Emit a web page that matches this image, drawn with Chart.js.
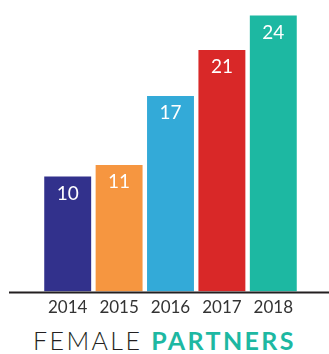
<!DOCTYPE html>
<html>
<head>
<meta charset="utf-8">
<script src="https://cdn.jsdelivr.net/npm/chart.js@4/dist/chart.umd.min.js"></script>
<style>
  html, body { margin: 0; padding: 0; background: #fff; }
  #wrap { position: relative; width: 329px; height: 354px; }
  #box { position: absolute; left: 0; top: 0; width: 329px; height: 325px; }
  #title {
    position: absolute; left: 0; top: 326px; width: 329px; text-align: center;
    font-family: Lato, sans-serif; font-size: 25px; letter-spacing: 2.4px; color: #231f20;
    line-height: 28px;
  }
  #title b { color: #1db8a2; font-weight: 700; }
  #title span { font-weight: 300; }
</style>
</head>
<body>
<div id="wrap">
  <div id="box"><canvas id="chart"></canvas></div>
  <div id="title"><span>FEMALE</span> <b>PARTNERS</b></div>
</div>
<script>
const years = ['2014', '2015', '2016', '2017', '2018'];
const partners = [10, 11, 17, 21, 24];
const barColors = ['#32318c', '#f69640', '#33aad8', '#d92828', '#1db8a2'];

// white value labels just inside the top of each bar
const valueLabels = {
    id: 'valueLabels',
    afterDatasetsDraw(chart) {
        const ctx = chart.ctx;
        const meta = chart.getDatasetMeta(0);
        ctx.save();
        ctx.fillStyle = '#ffffff';
        ctx.font = '19px Lato, sans-serif';
        ctx.textAlign = 'center';
        ctx.textBaseline = 'middle';
        meta.data.forEach((bar, i) => {
            ctx.fillText(partners[i], bar.x, bar.y + 17);
        });
        ctx.restore();
    }
};

// baseline running across the whole width
const baseLine = {
    id: 'baseLine',
    afterDatasetsDraw(chart) {
        const ctx = chart.ctx;
        const y = chart.scales.y.getPixelForValue(0);
        ctx.save();
        ctx.strokeStyle = '#231f20';
        ctx.lineWidth = 2;
        ctx.beginPath();
        ctx.moveTo(9, y + 1);
        ctx.lineTo(chart.width, y + 1);
        ctx.stroke();
        ctx.restore();
    }
};

new Chart(document.getElementById('chart'), {
    type: 'bar',
    data: {
        labels: years,
        datasets: [{
            data: partners,
            backgroundColor: barColors,
            borderWidth: 0,
            barPercentage: 0.913,
            categoryPercentage: 1
        }]
    },
    options: {
        responsive: true,
        maintainAspectRatio: false,
        animation: false,
        layout: { padding: { left: 42, right: 30, top: 4, bottom: 1 } },
        plugins: {
            legend: { display: false },
            tooltip: { enabled: false }
        },
        scales: {
            x: {
                grid: { display: false, drawTicks: false },
                border: { display: false },
                ticks: {
                    color: '#333333',
                    padding: 6,
                    font: { family: 'Lato, sans-serif', size: 17 }
                }
            },
            y: {
                display: false,
                min: 0,
                max: 25
            }
        }
    },
    plugins: [valueLabels, baseLine]
});
</script>
</body>
</html>
